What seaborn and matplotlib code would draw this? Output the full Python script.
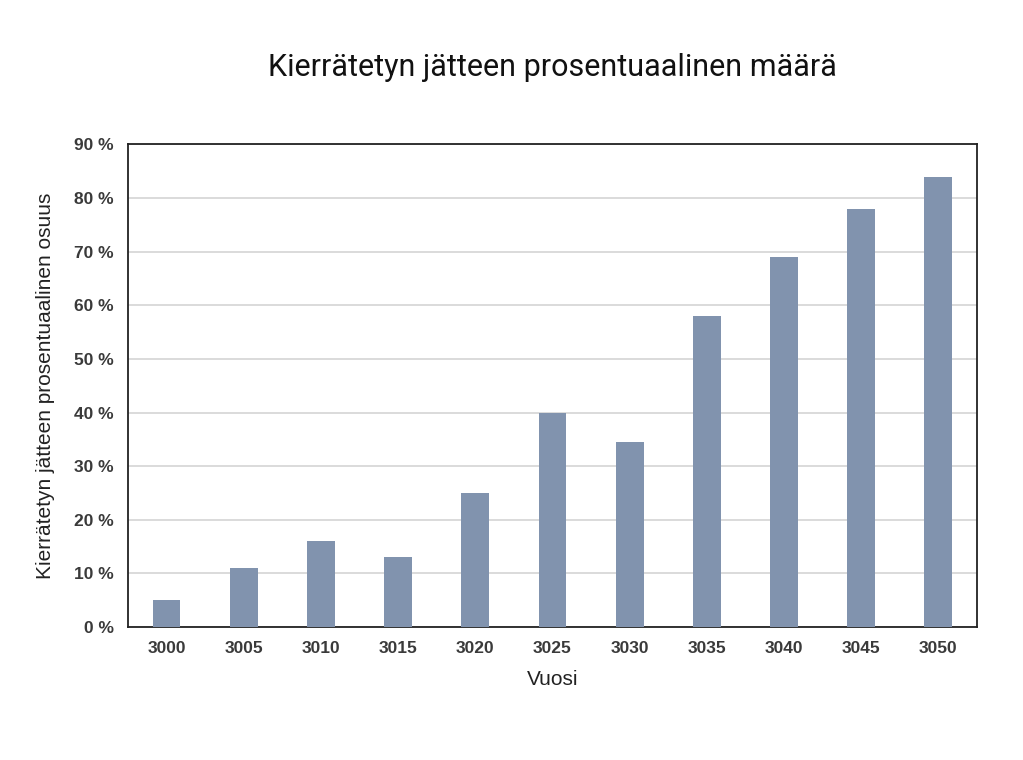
import matplotlib
matplotlib.use("Agg")
import matplotlib.pyplot as plt
import seaborn as sns
import pandas as pd

years = ["3000", "3005", "3010", "3015", "3020", "3025", "3030", "3035", "3040", "3045", "3050"]
values = [5, 11, 16, 13, 25, 40, 34.5, 58, 69, 78, 84]
y_ticks = [0, 10, 20, 30, 40, 50, 60, 70, 80, 90]
y_tick_labels = [f"{t} %" for t in y_ticks]

title = "Kierrätetyn jätteen prosentuaalinen määrä"
x_label = "Vuosi"
y_label = "Kierrätetyn jätteen prosentuaalinen osuus"

sns.set_theme(style="white")
plt.rcParams['font.family'] = ['Liberation Sans', 'DejaVu Sans']

df = pd.DataFrame({"Vuosi": years, "Osuus": values})

fig = plt.figure(figsize=(10.23, 7.6), dpi=100)
ax = fig.add_axes([0.125, 0.175, 0.83, 0.635])

sns.barplot(data=df, x="Vuosi", y="Osuus", color="#8193ae", saturation=1,
            width=0.36, ax=ax, zorder=3, edgecolor="none", linewidth=0)

ax.set_ylim(0, 90)
ax.set_yticks(y_ticks)
ax.set_yticklabels(y_tick_labels)
ax.yaxis.grid(True, color="#d4d4d4", linewidth=1.2, zorder=0)
ax.set_axisbelow(True)
for s in ax.spines.values():
    s.set_visible(True)
    s.set_color("#222222")
    s.set_linewidth(1.3)

ax.tick_params(axis="both", labelsize=12.5, colors="#333333", length=0, pad=10)
for lbl in ax.get_xticklabels() + ax.get_yticklabels():
    lbl.set_fontweight("bold")
    lbl.set_color("#3a3a3a")

ax.set_xlabel(x_label, fontsize=15, color="#222222", labelpad=10)
ax.set_ylabel(y_label, fontsize=15, color="#222222", labelpad=14)
fig.suptitle(title, x=0.54, y=0.93, fontsize=22, family=['Roboto', 'DejaVu Sans'],
             color="#111111")

fig.savefig("out.png", dpi=100, facecolor="white")
